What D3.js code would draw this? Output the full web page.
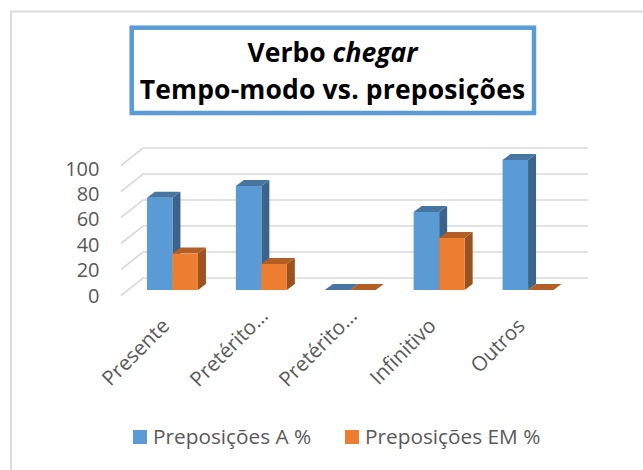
<!DOCTYPE html>
<html><head><meta charset="utf-8">
<script src="https://cdn.jsdelivr.net/npm/d3@7/dist/d3.min.js"></script>
<style>html,body{margin:0;padding:0;background:#fff}svg{display:block}text{font-family:"Open Sans",sans-serif}</style>
</head><body><svg id="c" width="643" height="470"></svg>
<script>
const categories = ["Presente","Pretérito…","Pretérito…","Infinitivo","Outros"];
const seriesNames = ["Preposições A %","Preposições EM %"];
const seriesA = [71,80,0,60,100];
const seriesEM = [28,20,0,40,0];
const yTicks = [0,20,40,60,80,100];
const colors = ["#5b9bd5","#ed7d31"];
const topColors = ["#4675a1","#b35e25"];
const sideColors = ["#3b648c","#9a5220"];

const svg = d3.select("#c");
const depthX = 8, depthY = -6;

svg.append("path").attr("fill","none").attr("stroke","#dcdcdc").attr("stroke-width",2)
  .attr("d",d3.line()([[11,470],[11,11.5],[643,11.5]]));

const x = d3.scaleBand().domain(d3.range(categories.length)).range([128,572.5]);
const sub = d3.scaleBand().domain([0,1]).range([18.95,69.95]);
const y = d3.scaleLinear().domain([0,100]).range([290,160]);
const yLabel = d3.scaleLinear().domain([0,100]).range([295,168.3]);

const gw = svg.append("g");
const wall = {dx:22, dy:-17.5, x0:121, x1:588, yOff:5.5};
yTicks.forEach(t=>{
  const yy = y(t)+wall.yOff;
  gw.append("path").attr("fill","none").attr("stroke","#d9d9d9").attr("stroke-width",1.6)
    .attr("d",d3.line()([[wall.x0,yy],[wall.x0+wall.dx,yy+wall.dy],[wall.x1,yy+wall.dy]]));
});

const yAxis = d3.axisLeft(yLabel).tickValues(yTicks).tickSize(0).tickPadding(0);
const ga = svg.append("g").attr("transform","translate(99.5,0)").call(yAxis);
ga.select(".domain").remove();
ga.selectAll("text").attr("fill","#595959").style("font-size","20px").style("font-family",'"Open Sans",sans-serif').attr("dy","0.35em");

function bar(g,x0,w,v,i){
  const yt=y(v), yb=y(0);
  g.append("path").attr("fill",sideColors[i])
    .attr("d",d3.line()([[x0+w,yt],[x0+w+depthX,yt+depthY],[x0+w+depthX,yb+depthY],[x0+w,yb]]));
  g.append("path").attr("fill",topColors[i])
    .attr("d",d3.line()([[x0,yt],[x0+depthX,yt+depthY],[x0+w+depthX,yt+depthY],[x0+w,yt]]));
  if(v>0) g.append("rect").attr("x",x0).attr("y",yt).attr("width",w).attr("height",yb-yt).attr("fill",colors[i]);
}
const gb = svg.append("g");
[seriesA,seriesEM].forEach((s,i)=>{
  s.forEach((v,k)=>{ bar(gb.append("g"), x(k)+sub(i), sub.bandwidth(), v, i); });
});

const labelAnchor = svg.append("g");
categories.forEach((c,k)=>{
  labelAnchor.append("text").attr("text-anchor","end").attr("fill","#595959").style("font-size","20.5px")
    .attr("transform",`translate(${x(k)+x.bandwidth()/2-7},${322}) rotate(-45)`)
    .attr("dx",c.endsWith("…")?14:0)
    .attr("dy","0.35em").text(c);
});

const legendX=[133,345];
seriesNames.forEach((n,i)=>{
  svg.append("rect").attr("x",legendX[i]).attr("y",430).attr("width",14).attr("height",14).attr("fill",colors[i]);
  svg.append("text").attr("x",legendX[i]+20).attr("y",444).attr("fill","#595959").style("font-size","20.8px").text(n);
});

svg.append("rect").attr("x",131.7).attr("y",27.7).attr("width",402.3).attr("height",85.3).attr("fill","#fff").attr("stroke","#5b9bd5").attr("stroke-width",4.5);
const t1 = svg.append("text").attr("x",332.5).attr("y",61.7).attr("text-anchor","middle").attr("fill","#000").style("font-size","26.5px").style("font-weight","700");
t1.append("tspan").text("Verbo ");
t1.append("tspan").style("font-style","italic").text("chegar");
svg.append("text").attr("x",332.5).attr("y",99.3).attr("text-anchor","middle").attr("fill","#000").style("font-size","26.5px").style("font-weight","700").style("letter-spacing","0.15px").text("Tempo-modo vs. preposições");
</script></body></html>
